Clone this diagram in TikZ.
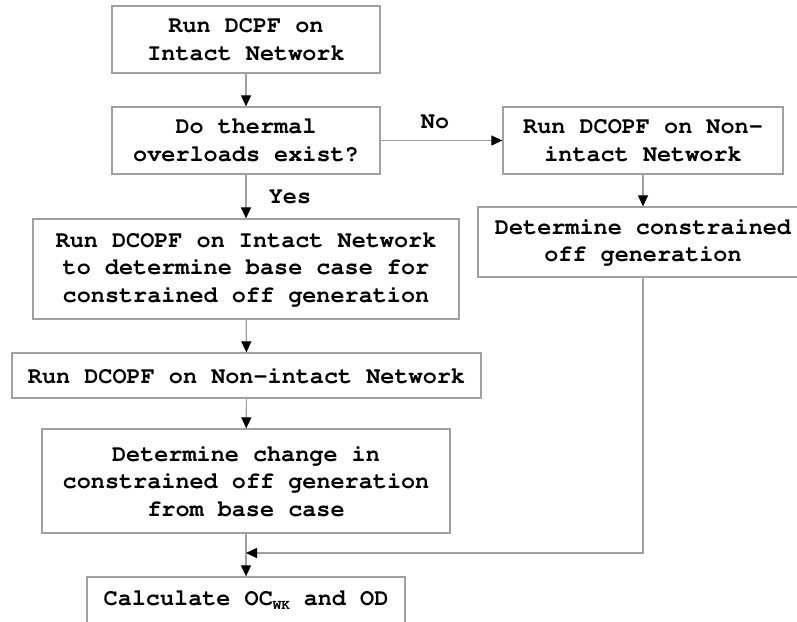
\documentclass[tikz,border=0pt]{standalone}
\usepackage[T1]{fontenc}
\renewcommand{\ttdefault}{pcr}
\usetikzlibrary{arrows.meta}
\definecolor{edgegray}{RGB}{160,160,160}
\begin{document}
\begin{tikzpicture}[x=1pt,y=-1pt,
  box/.style={draw=edgegray, line width=1.3pt, rectangle, align=center, inner sep=0pt,
    font=\ttfamily\bfseries\fontsize{23.5}{27.5}\selectfont},
  lbl/.style={font=\ttfamily\bfseries\fontsize{23.5}{27.5}\selectfont, inner sep=0pt},
  flow/.style={draw=edgegray, line width=1.2pt,
    -{Triangle[length=11pt,width=10pt,color=black,fill=black]}}]
\useasboundingbox (0,0) rectangle (797,621);
\clip (0,0) rectangle (797,621);
\fill[white] (0,0) rectangle (797,621);

% left column
\node[box, minimum width=268pt, minimum height=67pt] (b1) at (246,39.5) {Run DCPF on\\Intact Network};
\node[box, minimum width=268pt, minimum height=67pt] (b2) at (246,140.5) {Do thermal\\overloads exist?};
\node[box, minimum width=426pt, minimum height=100pt] (b3) at (246,269) {Run DCOPF on Intact Network\\to determine base case for\\constrained off generation};
\node[box, minimum width=469pt, minimum height=45pt] (b4) at (246.5,375.5) {Run DCOPF on Non-intact Network};
\node[box, minimum width=408pt, minimum height=104pt] (b5) at (246,481) {Determine change in\\constrained off generation\\from base case};
\node[box, minimum width=318pt, minimum height=46pt] (b6) at (246,600) {Calculate OC{\fontsize{14}{14}\selectfont\raisebox{-4pt}{WK}} and OD};

% right column
\node[box, minimum width=280pt, minimum height=67pt] (r1) at (643,140.5) {Run DCOPF on Non-\\intact Network};
\node[box, minimum width=330pt, minimum height=70pt] (r2) at (643,242) {Determine constrained\\off generation};

% branch labels
\node[lbl] (no) at (435,122) {No};
\node[lbl] (yes) at (290,197) {Yes};

% connectors
\coordinate (merge) at (246,553);
\coordinate (corner) at (r2.south |- merge);
\draw[flow] (b1) -- (b2);
\draw[flow] (b2) -- (b3);
\draw[flow] (b3) -- (b4);
\draw[flow] (b4) -- (b5);
\draw[flow] (b5) -- (b6);
\draw[flow] (b2.east) -- (r1.west);
\draw[flow] (r1) -- (r2);
\draw[flow] (r2.south) -- (corner) -- (merge);
\end{tikzpicture}
\end{document}
